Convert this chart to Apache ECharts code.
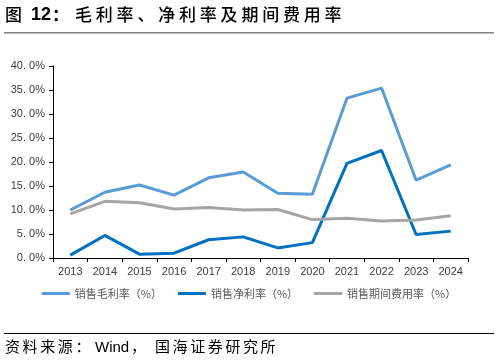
<!DOCTYPE html>
<html><head><meta charset="utf-8">
<script src="https://cdn.jsdelivr.net/npm/echarts@6/dist/echarts.min.js"></script>
<style>html,body{margin:0;padding:0;background:#fff}#c{width:498px;height:362px}</style>
</head><body><div id="c"></div>
<script>
const years = ['2013','2014','2015','2016','2017','2018','2019','2020','2021','2022','2023','2024'];
const grossMargin = [10.0,13.7,15.2,13.1,16.7,17.9,13.5,13.3,33.3,35.4,16.2,19.4];
const netMargin = [0.6,4.7,0.8,1.0,3.8,4.4,2.1,3.2,19.7,22.4,4.9,5.6];
const expenseRate = [9.2,11.8,11.5,10.2,10.5,10.0,10.1,8.0,8.3,7.7,7.9,8.8];
const seriesNames = ['销售毛利率（%）','销售净利率（%）','销售期间费用率（%）'];
const chart = echarts.init(document.getElementById('c'));
const font = '"Noto Sans CJK SC", sans-serif';
function spaced(str, x, y, pitch, f){
  return Array.from(str).map((ch,i)=>({type:'text',x:x+i*pitch,y:y,style:{text:ch,font:f,fill:'#000'}}));
}
const titleFont = '500 17px "Noto Sans CJK SC", sans-serif';
const footFont = '15px "Noto Sans CJK SC", sans-serif';
const graphics = [
  {type:'text',x:5,y:6,style:{text:'图',font:titleFont,fill:'#000'}},
  {type:'text',x:31,y:6,style:{text:'12',font:'bold 18px "Liberation Sans", Arial, sans-serif',fill:'#000'}},
  {type:'text',x:52,y:6,style:{text:'：',font:'bold 17px "Noto Sans CJK SC", sans-serif',fill:'#000'}},
  ...spaced('毛利率、净利率及期间费用率',75,6,20.8,titleFont),
  {type:'rect',shape:{x:4,y:32,width:490,height:1.5},style:{fill:'#7f7f7f'}},
  {type:'rect',shape:{x:4,y:333,width:490,height:1},style:{fill:'#000'}},
  ...spaced('资料来源：',5,339,17.6,footFont),
  {type:'text',x:95,y:340,style:{text:'Wind',font:'15px "Liberation Sans", Arial, sans-serif',fill:'#000'}},
  {type:'text',x:131,y:339,style:{text:'，',font:footFont,fill:'#000'}},
  ...spaced('国海证券研究所',155,339,17.6,footFont)
];
chart.setOption({
  animation:false,
  graphic:graphics,
  grid:{left:53,right:30,top:66,bottom:104},
  legend:{bottom:58,left:'center',itemWidth:28,itemHeight:3,itemGap:16,icon:'rect',
    textStyle:{fontFamily:font,fontSize:11,color:'#595959'},data:seriesNames},
  xAxis:{type:'category',data:years,boundaryGap:true,
    axisLine:{lineStyle:{color:'#000',width:1}},
    axisTick:{show:true,length:4,lineStyle:{color:'#000'}},
    axisLabel:{color:'#404040',fontSize:11,fontFamily:'"Liberation Sans", Arial, sans-serif',margin:8}},
  yAxis:{type:'value',min:0,max:40,interval:5,
    axisLine:{show:true,lineStyle:{color:'#000'}},
    axisTick:{show:true,length:4,inside:false,lineStyle:{color:'#000'}},
    splitLine:{show:false},
    axisLabel:{color:'#404040',fontSize:11,fontFamily:'"Liberation Sans", Arial, sans-serif',margin:8,
      formatter:v=>v.toFixed(1).replace('.','. ')+'%'}},
  series:[
    {name:seriesNames[0],type:'line',data:grossMargin,symbol:'none',lineStyle:{color:'#5b9bd5',width:3},itemStyle:{color:'#5b9bd5'}},
    {name:seriesNames[1],type:'line',data:netMargin,symbol:'none',lineStyle:{color:'#0070c0',width:3},itemStyle:{color:'#0070c0'}},
    {name:seriesNames[2],type:'line',data:expenseRate,symbol:'none',lineStyle:{color:'#a5a5a5',width:3},itemStyle:{color:'#a5a5a5'}}
  ]
});
</script></body></html>
